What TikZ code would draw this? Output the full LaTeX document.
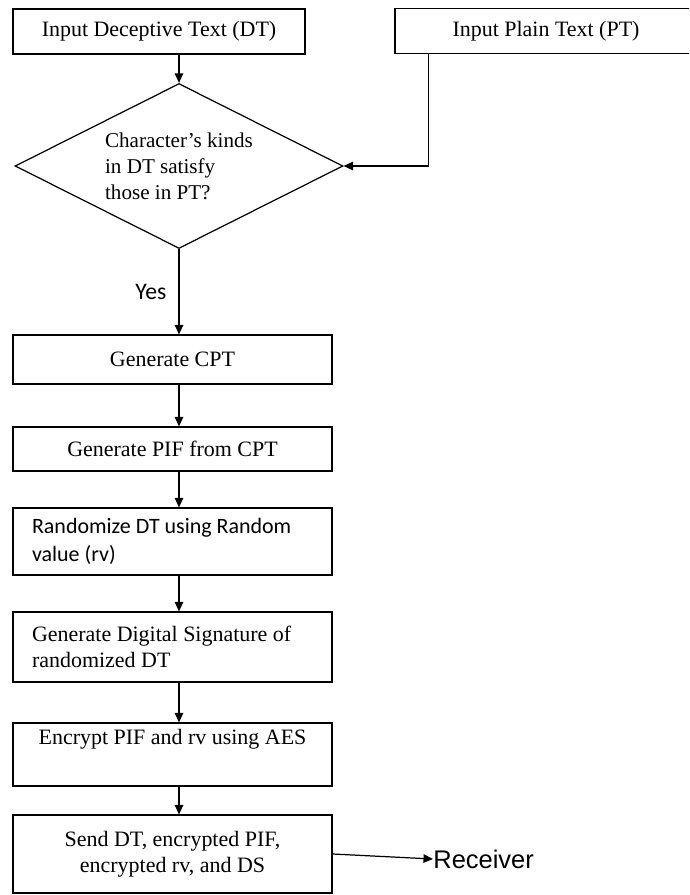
\documentclass[tikz,border=0pt]{standalone}
\usepackage{fontspec}
\setmainfont{Liberation Serif}
\newfontfamily\calibrifont{Carlito}
\newfontfamily\arialfont{Liberation Sans}
\usetikzlibrary{shapes.geometric,arrows.meta}

\tikzset{
  stepbox/.style={draw, line width=0.7pt, minimum width=6.38cm, inner sep=0pt,
    align=center, font=\fontsize{12.5}{15}\selectfont},
  flow/.style={line width=0.7pt, -{Triangle[length=1.9mm,width=1.7mm]}},
}

\begin{document}
\begin{tikzpicture}[x=0.02cm, y=-0.02cm]
    \useasboundingbox (0,0) rectangle (689,895);
    \clip (0,0) rectangle (689,895);
    % inputs
    \node[stepbox, minimum width=5.84cm, minimum height=0.9cm] (dt) at (159,31.5) {Input Deceptive Text (DT)};
    \node[stepbox, minimum width=6.04cm, minimum height=0.9cm] (pt) at (546,31) {Input Plain Text (PT)};
    \node[draw, diamond, aspect=2, line width=0.7pt, minimum width=6.56cm, minimum height=3.3cm,
      inner sep=0pt, align=left, font=\fontsize{12}{14.8}\selectfont] (check) at (179,166)
      {Character’s kinds\\in DT satisfy\\those in PT?};
    % steps
    \node[stepbox, minimum height=0.98cm] (cpt) at (172.5,359.5) {Generate CPT};
    \node[stepbox, minimum height=1.34cm, text width=5.62cm, align=flush left,
      font=\calibrifont\fontsize{12.5}{16}\selectfont] (rnd) at (172.5,541.5)
      {Randomize DT using Random\\value (rv)};
    \node[stepbox, minimum height=0.88cm] (pif) at (172.5,449) {Generate PIF from CPT};
    \node[stepbox, minimum height=1.4cm, text width=5.62cm, align=flush left] (sig) at (172.5,647)
      {Generate Digital Signature of\\randomized DT};
    \node[stepbox, minimum height=1.26cm] (enc) at (172.5,754.5) {Encrypt PIF and rv using AES\\\strut};
    \node[stepbox, minimum height=1.56cm] (snd) at (172.5,854) {Send DT, encrypted PIF,\\encrypted rv, and DS};
    \node[anchor=west, inner sep=0pt, font=\arialfont\fontsize{14.5}{16}\selectfont] (rcv) at (433,859) {Receiver};

    \draw[flow] (dt.south -| check.north) -- (check.north);
    \draw[flow] ([xshift=0.68cm]pt.south west) |- (check.east);
    \draw[flow] (check.south) -- node[left=0.24cm, inner sep=0pt, font=\calibrifont\fontsize{13.5}{15}\selectfont] {Yes} (check.south |- cpt.north);
    \foreach \a/\b in {cpt/pif, pif/rnd, rnd/sig, sig/enc, enc/snd}
      \draw[flow] (\a.south -| check.south) -- (\b.north -| check.south);
    \draw[flow] (snd.east) -- (rcv.west);
\end{tikzpicture}
\end{document}
